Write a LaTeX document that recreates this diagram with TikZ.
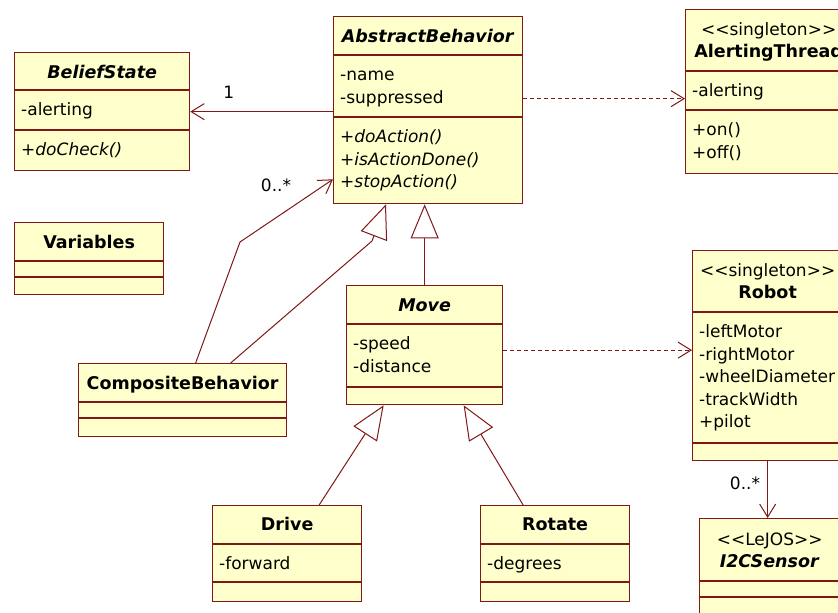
\documentclass[tikz,border=0pt]{standalone}
\usepackage{fontspec}
\setmainfont{DejaVu Sans}
\usetikzlibrary{arrows.meta}
\definecolor{umlfill}{RGB}{255,255,204}
\definecolor{umlline}{RGB}{128,24,24}
% separator line of a class box, #2 pt below its top
\newcommand{\classsep}[2]{\draw[sepline] ([yshift=-#2pt]#1.north west) -- ([yshift=-#2pt]#1.north east);}
% one compartment of members, starting #2 pt below the top of the box
\newcommand{\classmembers}[3]{\foreach \entry [count=\i from 0] in {#3}
  \node[member] at ([xshift=7pt, yshift={-(#2+25.5+22.6*\i)}]#1.north west) {\entry};}
\newcommand{\classtitle}[3]{\node[titletext] at ([yshift=-#2pt]#1.north) {#3};}
\newcommand{\stereotype}[1]{<\kern0pt<#1>\kern0pt>}

\begin{document}
\begin{tikzpicture}[
  x=1pt, y=-1pt,
  font=\fontsize{17}{20}\selectfont,
  classbox/.style={draw=umlline, fill=umlfill, line width=1.3pt, anchor=north west, inner sep=0pt},
  sepline/.style={umlline, line width=1.3pt},
  titletext/.style={anchor=base, inner sep=0pt, font=\fontsize{17.5}{20}\selectfont\bfseries},
  stereo/.style={anchor=base, inner sep=0pt},
  member/.style={anchor=base west, inner sep=0pt},
  mult/.style={inner sep=0pt, text=black},
  assoc/.style={umlline, line width=1pt, -{Straight Barb[length=13pt, width=16pt]}},
  dep/.style={assoc, dash pattern=on 4pt off 3pt},
  gen/.style={umlline, line width=1pt, -{Triangle[length=34pt, width=28pt, fill=white]}}
]
\useasboundingbox (0,0) rectangle (838,613);
\fill[white] (0,0) rectangle (838,613);
\clip (0,0) rectangle (838,613);

% class boxes
\node[classbox, minimum width=175pt, minimum height=118pt] (belief) at (14,52) {};
\node[classbox, minimum width=189pt, minimum height=187pt] (ab) at (333,16) {};
\node[classbox, minimum width=166pt, minimum height=164pt] (at) at (685,9) {};
\node[classbox, minimum width=149pt, minimum height=72pt] (vars) at (14,222) {};
\node[classbox, minimum width=208pt, minimum height=73pt] (cb) at (78,363) {};
\node[classbox, minimum width=156pt, minimum height=119pt] (move) at (346,285) {};
\node[classbox, minimum width=150pt, minimum height=210pt] (robot) at (692,250) {};
\node[classbox, minimum width=140pt, minimum height=110pt] (i2c) at (699,518) {};
\node[classbox, minimum width=149pt, minimum height=96pt] (drive) at (212,505) {};
\node[classbox, minimum width=149pt, minimum height=96pt] (rotate) at (480,505) {};

% compartments
\classsep{belief}{38} \classsep{belief}{78}
\classsep{ab}{39} \classsep{ab}{101}
\classsep{at}{62} \classsep{at}{101}
\classsep{vars}{39} \classsep{vars}{55}
\classsep{cb}{39} \classsep{cb}{55}
\classsep{move}{39} \classsep{move}{102}
\classsep{robot}{62} \classsep{robot}{193}
\classsep{i2c}{63} \classsep{i2c}{79}
\classsep{drive}{39} \classsep{drive}{77}
\classsep{rotate}{39} \classsep{rotate}{77}

% names
\classtitle{belief}{26}{\textit{BeliefState}}
\classtitle{ab}{26}{\textit{AbstractBehavior}}
\node[stereo] (atst) at ([yshift=-26pt]at.north) {\stereotype{singleton}};
\classtitle{at}{48}{AlertingThread}
\classtitle{vars}{26}{Variables}
\classtitle{cb}{26}{CompositeBehavior}
\classtitle{move}{26}{\textit{Move}}
\node[stereo] (robotst) at ([yshift=-26pt]robot.north) {\stereotype{singleton}};
\classtitle{robot}{48}{Robot}
\node[stereo] (i2cst) at ([yshift=-27pt]i2c.north) {\stereotype{LeJOS}};
\classtitle{i2c}{49}{\textit{I2CSensor}}
\classtitle{drive}{25}{Drive}
\classtitle{rotate}{25}{Rotate}

% members
\classmembers{belief}{38}{-alerting}
\classmembers{belief}{78}{\textit{+doCheck()}}
\classmembers{ab}{39}{-name, -suppressed}
\classmembers{ab}{101}{\textit{+doAction()}, \textit{+isActionDone()}, \textit{+stopAction()}}
\classmembers{at}{62}{-alerting}
\classmembers{at}{101}{+on(), +off()}
\classmembers{move}{39}{-speed, -distance}
\classmembers{robot}{62}{-leftMotor, -rightMotor, -wheelDiameter, -trackWidth, +pilot}
\classmembers{drive}{39}{-forward}
\classmembers{rotate}{39}{-degrees}

% relations
\draw[assoc] (ab.west |- belief.east) -- node[mult, pos=0.73, above=13pt] (m1) {1} (belief.east);
\coordinate (cbbend) at (240,242);
\draw[assoc] ([xshift=13pt]cb.north) -- (cbbend) -- ([yshift=25pt]ab.south west);
\node[mult] (mcb) at (276,185) {0..*};
\coordinate (cbgen) at (372,241);
\draw[gen] ([xshift=48pt]cb.north) -- (cbgen) -- ([xshift=53pt]ab.south west);
\draw[gen] (move.north) -- (move.north |- ab.south);
\draw[gen] ([xshift=32pt]drive.north) -- ([xshift=-41pt]move.south);
\draw[gen] ([xshift=-32pt]rotate.north) -- ([xshift=39pt]move.south);
\draw[dep] ([yshift=11.5pt]ab.east) -- ([yshift=11.5pt]ab.east -| at.west);
\draw[dep] ([yshift=-5pt]move.east) -- ([yshift=-5pt]move.east -| robot.west);
\draw[assoc] (robot.south) -- (robot.south |- i2c.north);
\node[mult] (mi2c) at (745,483) {0..*};
\end{tikzpicture}
\end{document}
